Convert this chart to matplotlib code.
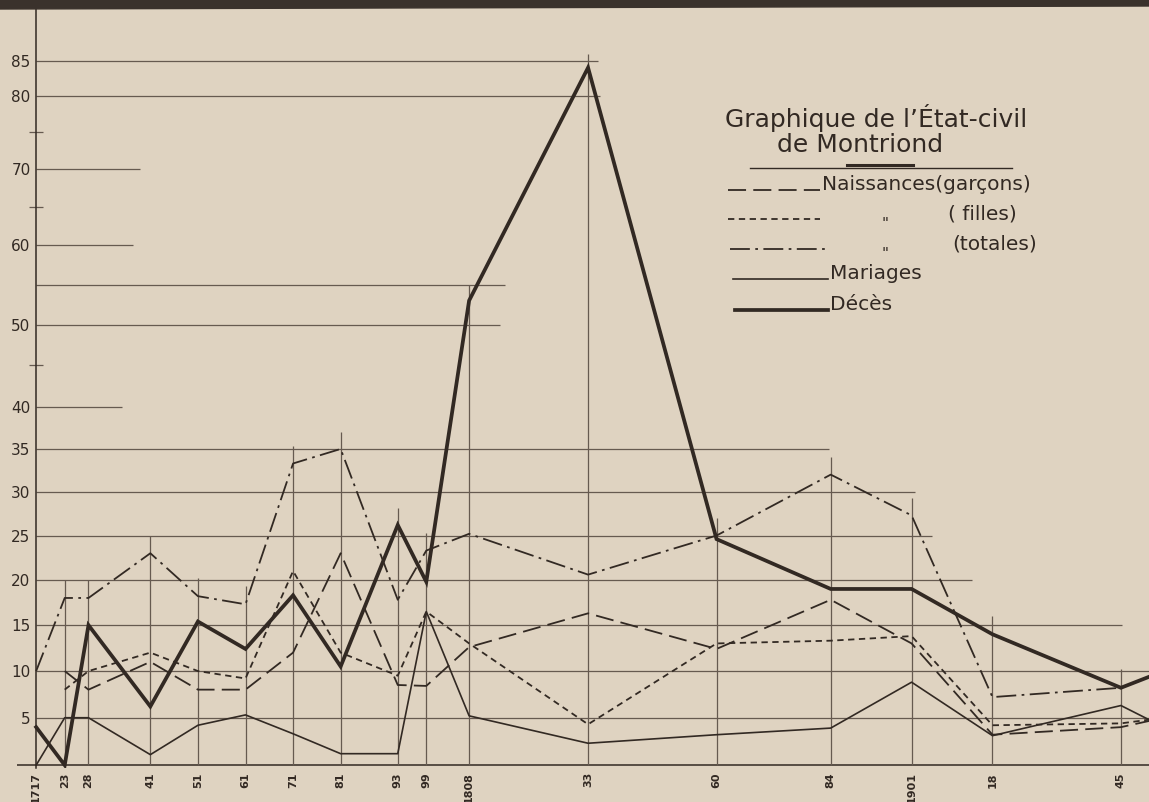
import numpy as np
import matplotlib
matplotlib.use('Agg')
import matplotlib.pyplot as plt
from matplotlib.lines import Line2D
from matplotlib.patches import Polygon

# years of the records (last one runs off the right edge of the sheet)
years = [1717, 1723, 1728, 1741, 1751, 1761, 1771, 1781, 1793, 1799,
         1808, 1833, 1860, 1884, 1901, 1918, 1945, 1954]
year_labels = ['1717', '23', '28', '41', '51', '61', '71', '81', '93', '99',
               '1808', '33', '60', '84', '1901', '18', '45']

nan = np.nan
garcons = [nan, 10, 8, 11, 8, 8, 12, 23, 8.5, 8.4,
           12.6, 16.3, 12.4, 17.8, 13, 3.2, 4, 5]
filles = [nan, 8, 10, 12, 10, 9.2, 21, 12, 9.5, 16.5,
          13, 4.3, 13, 13.3, 13.8, 4.2, 4.4, 5]
totales = [10, 18, 18, 23, 18.2, 17.3, 33.3, 35, 17.8, 23.3,
           25.2, 20.6, 25, 32, 27.3, 7.2, 8.2, 10]
mariages = [0, 5, 5, 1.1, 4.2, 5.3, 3.3, 1.2, 1.2, 16.5,
            5.2, 2.3, 3.2, 3.9, 8.8, 3.1, 6.3, 4]
deces = [4, 0, 15, 6.2, 15.4, 12.4, 18.3, 10.5, 26.2, 19.8,
         53, 84, 24.6, 19, 19, 14, 8.2, 10]

y_labels = [5, 10, 15, 20, 25, 30, 35, 40, 50, 60, 70, 80, 85]
y_small = [45, 65, 75]
# hand-ruled horizontal lines and how far right each one was drawn
rule_y = [5, 10, 15, 20, 25, 30, 35, 40, 50, 55, 60, 70, 80, 85]
rule_end = [1951, 1951, 1945.2, 1913.6, 1905.2, 1901.7, 1883.6, 1735,
            1814.5, 1815.5, 1737.4, 1738.8, 1835.5, 1835]

ink = '#322923'
rule = '#665a50'
paper = '#dfd3c1'

styles = {
    'garcons': dict(ls=(0, (10, 4)), lw=1.3),
    'filles': dict(ls=(0, (3.5, 2.5)), lw=1.3),
    'totales': dict(ls=(0, (11, 3, 1.5, 3)), lw=1.3),
    'mariages': dict(ls='-', lw=1.2),
    'deces': dict(ls='-', lw=2.7),
}

W, H = 1149, 802
fig = plt.figure(figsize=(W / 100, H / 100), dpi=100, facecolor=paper)

# dark strip above the top edge of the sheet in the photo
fig.patches.append(Polygon([(0, 1), (1, 1), (1, 1 - 6 / H), (0, 1 - 9 / H)],
                           closed=True, transform=fig.transFigure,
                           color='#3a322c', zorder=0))

ax = fig.add_axes([0, 34 / H, 1, 768 / H])
ax.set_facecolor('none')

# photo of the sheet is foreshortened towards the top
A = 0.00156
def fwd(y):
    return y - A * y * y
def inv(f):
    return (1 - np.sqrt(np.clip(1 - 4 * A * f, 0, None))) / (2 * A)
ax.set_yscale('function', functions=(fwd, inv))

# grid as drawn by hand
ax.hlines(rule_y, 1717, rule_end, color=rule, lw=0.9)
ax.hlines(0, 1713, 1951, color=ink, lw=1.1)
series = np.array([garcons, filles, totales, mariages, deces], dtype=float)
tops = np.nanmax(series, axis=0) + 2
ax.vlines(years[1:-1], 0, tops[1:-1], color=rule, lw=0.9)

ax.plot(years, garcons, color=ink, dash_capstyle='butt', **styles['garcons'])
ax.plot(years, filles, color=ink, dash_capstyle='butt', **styles['filles'])
ax.plot(years, totales, color=ink, dash_capstyle='butt', **styles['totales'])
ax.plot(years, mariages, color=ink, **styles['mariages'])
ax.plot(years, deces, color=ink, solid_joinstyle='miter', **styles['deces'])

ax.set_xlim(1709.4, 1950.9)
ax.set_ylim(-0.3, 93.8)

for s in ['top', 'right', 'bottom']:
    ax.spines[s].set_visible(False)
ax.spines['left'].set_position(('data', 1717))
ax.spines['left'].set_color(ink)
ax.spines['left'].set_linewidth(1.1)

ax.set_xticks(years[:-1], year_labels, rotation=90, fontsize=8,
              fontweight='bold', color=ink)
ax.tick_params(axis='x', length=0, pad=3)
ax.set_yticks(y_labels, [str(v) for v in y_labels], fontsize=11, color=ink)
ax.set_yticks(y_small, minor=True)
ax.yaxis.set_minor_formatter(plt.NullFormatter())
ax.tick_params(axis='y', which='major', length=0, pad=4)
ax.tick_params(axis='y', which='minor', direction='inout', length=10,
               width=0.9, color=rule)


def px(x, y):
    return x / W, 1 - y / H


# title block
fig.text(*px(725, 127), 'Graphique de l’État-civil', fontsize=18,
         color=ink, va='baseline')
fig.text(*px(777, 152), 'de Montriond', fontsize=18, color=ink, va='baseline')
fig.add_artist(Line2D(*zip(px(750, 168), px(1012, 168)), color=ink, lw=1.0))
fig.add_artist(Line2D(*zip(px(847, 165), px(913, 165)), color=ink, lw=2.2))

# hand-drawn legend
rows = [
    ('garcons', 728, 820, 190, 'Naissances(garçons)', 822, False),
    ('filles', 728, 820, 219, '( filles)', 948, True),
    ('totales', 730, 825, 249, '(totales)', 952, True),
    ('mariages', 733, 828, 279, 'Mariages', 830, False),
    ('deces', 735, 828, 310, 'Décès', 830, False),
]
for key, x0, x1, y, label, tx, ditto in rows:
    fig.add_artist(Line2D(*zip(px(x0, y), px(x1, y)), color=ink,
                          dash_capstyle='butt', **styles[key]))
    fig.text(*px(tx, y), label, fontsize=14.5, color=ink, va='baseline')
    if ditto:
        fig.text(*px(882, y + 10), '"', fontsize=11, color=ink, va='baseline',
                 style='italic')

fig.savefig('out.png', dpi=100, facecolor=paper)
